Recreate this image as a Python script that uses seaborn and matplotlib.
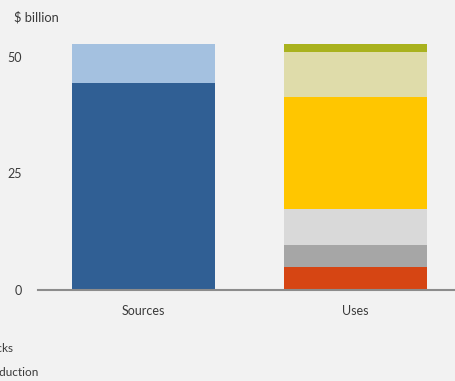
import seaborn as sns
import matplotlib.pyplot as plt
import pandas as pd

# data ($ billion)
categories = ['Sources', 'Uses']
sources_segments = ['Dark blue', 'Light blue']
sources_values = [44.5, 8.3]
uses_segments = ['Red', 'Gray', 'Light gray', 'Yellow', 'Beige', 'Olive']
uses_values = [4.9, 4.8, 7.7, 24.0, 9.7, 1.7]
legend_labels = ['Stocks', 'Production']

sources_colors = ['#305f94', '#a4c1e0']
uses_colors = ['#d64513', '#a6a6a6', '#d9d9d9', '#ffc600', '#dfdcaa', '#a9b21e']

bg = '#f2f2f2'
txt = '#3a3a3a'

sns.set_style('white', {'axes.facecolor': bg, 'figure.facecolor': bg})
plt.rcParams['font.family'] = ['Lato', 'DejaVu Sans']

fig = plt.figure(figsize=(4.55, 3.81), dpi=100)
ax = fig.add_axes([38 / 455, 91 / 381, 445 / 455, 256.3 / 381])

# stacked bars, drawn segment by segment
for cat, vals, cols in [('Sources', sources_values, sources_colors),
                        ('Uses', uses_values, uses_colors)]:
    bottom = 0
    for v, c in zip(vals, cols):
        df = pd.DataFrame({'cat': [cat], 'val': [v]})
        sns.barplot(data=df, x='cat', y='val', order=categories, color=c,
                    width=0.673, bottom=bottom, ax=ax, saturation=1,
                    linewidth=0)
        bottom += v

ax.set_xlim(-0.496, 1.6)
ax.set_ylim(0, 55)
ax.set_yticks([0, 25, 50])
ax.set_xlabel('')
ax.set_ylabel('')
ax.tick_params(axis='both', length=0, colors=txt, labelsize=9)
ax.tick_params(axis='y', pad=11.5)
ax.tick_params(axis='x', pad=10.5)
for s in ['top', 'right', 'left']:
    ax.spines[s].set_visible(False)
ax.spines['bottom'].set_color('#8c8c8c')
ax.spines['bottom'].set_linewidth(1.5)

fig.text(14 / 455, 1 - 17 / 381, '$ billion', color=txt, fontsize=9.3, va='center')
fig.text(-20 / 455, 1 - 348 / 381, legend_labels[0], color=txt, fontsize=8.5, va='center')
fig.text(-18 / 455, 1 - 373 / 381, legend_labels[1], color=txt, fontsize=8.5, va='center')

fig.savefig('out.png', dpi=100, facecolor=bg)
